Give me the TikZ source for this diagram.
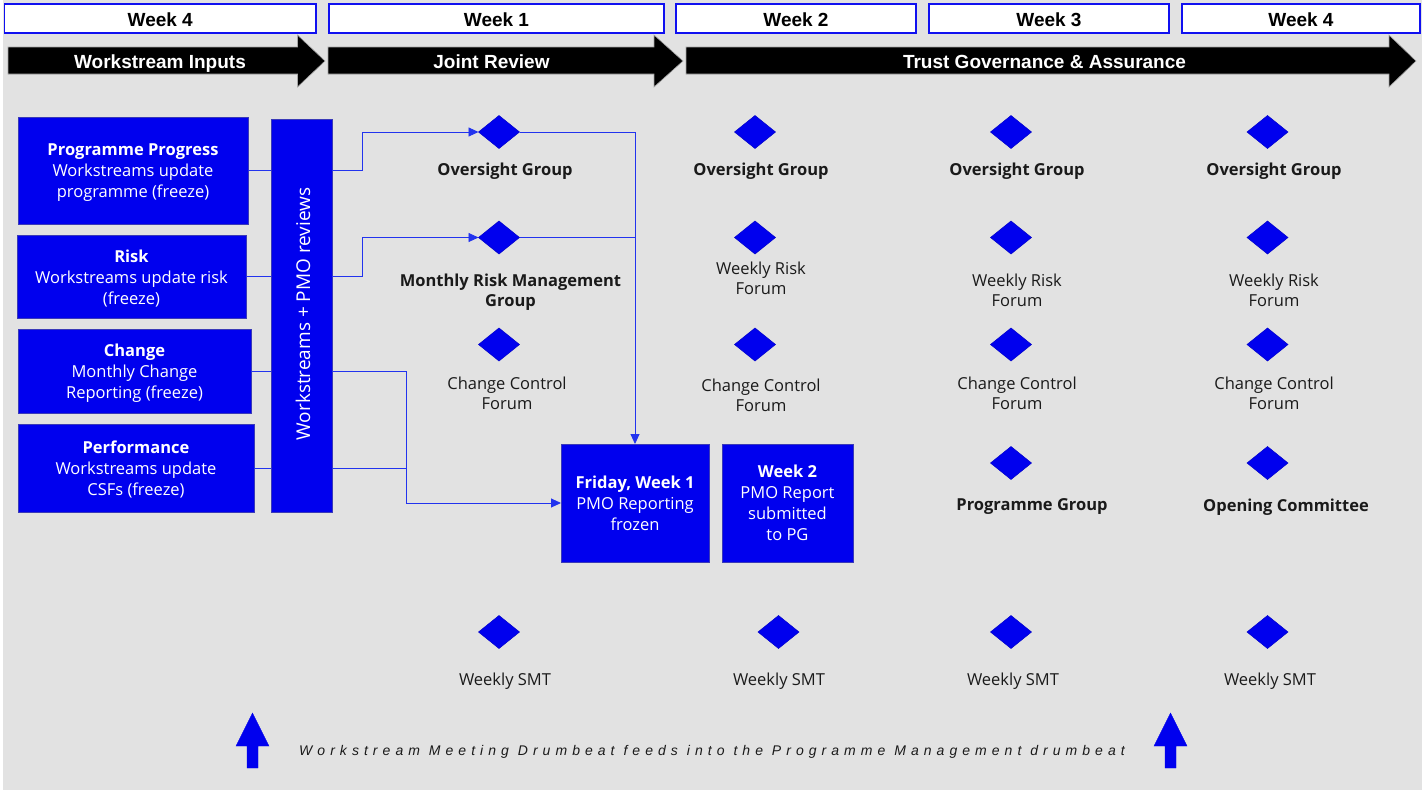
\documentclass[tikz,border=0pt]{standalone}
\usepackage{fontspec}
\setmainfont{Open Sans}
\newfontfamily\hdrfont{Liberation Sans}
\newfontfamily\drumfont{Liberation Sans}[LetterSpace=36]
\usetikzlibrary{shapes.geometric,arrows.meta,calc}
\definecolor{bg}{HTML}{E2E2E2}
\definecolor{boxblue}{HTML}{0000EE}
\definecolor{boxedge}{HTML}{3A3AB8}
\definecolor{linkblue}{HTML}{2233EE}
\definecolor{hdredge}{HTML}{1010F0}
\definecolor{ink}{HTML}{1A1A1A}
\begin{document}
\begin{tikzpicture}[x=1pt,y=-1pt,
  every node/.style={inner sep=0pt, outer sep=0pt},
  weekbox/.style={draw=hdredge, line width=1.5pt, fill=white, text=black,
    text height=16.6pt, text depth=0pt,
    font=\hdrfont\bfseries\fontsize{19}{22}\selectfont},
  arrowtext/.style={text=white, text height=14.5pt, text depth=0pt,
    font=\hdrfont\bfseries\fontsize{19}{22}\selectfont},
  bluebox/.style={draw=boxedge, line width=0.8pt, fill=boxblue, text=white, align=center,
    font=\fontsize{16.5}{21}\selectfont},
  boxtext/.style={text=white, align=center, yshift=-1.8pt, font=\fontsize{16.5}{21}\selectfont},
  dia/.style={diamond, fill=boxblue, draw=boxblue!85!black, line width=0.5pt,
    minimum width=41pt, minimum height=33pt, inner sep=0pt},
  lbl/.style={align=center, text=ink, font=\fontsize{16.5}{20}\selectfont},
  blbl/.style={align=center, text=ink, yshift=-2pt, font=\bfseries\fontsize{16.5}{20}\selectfont},
  dsc/.style={yshift=-2pt},
  link/.style={draw=linkblue, line width=0.9pt},
  arr/.style={link, -{Triangle[length=10pt,width=9pt]}},
  hdrarrow/.style={fill=black, draw=gray!70, line width=0.6pt},
  uparrow/.style={fill=boxblue, draw=boxblue},
  ]
\useasboundingbox (0,0) rectangle (1422,790);
\fill[white] (0,0) rectangle (3,790);
\fill[bg] (3,0) rectangle (1422,790);

% week header boxes
\node[weekbox, minimum width=311.5pt, minimum height=29pt] (wk0) at (160.25,18.5) {Week 4};
\node[weekbox, minimum width=335pt, minimum height=29pt] (wk1) at (496.5,18.5) {Week 1};
\node[weekbox, minimum width=240pt, minimum height=29pt] (wk2) at (796,18.5) {Week 2};
\node[weekbox, minimum width=240pt, minimum height=29pt] (wk3) at (1049,18.5) {Week 3};
\node[weekbox, minimum width=238pt, minimum height=29pt] (wk4) at (1301,18.5) {Week 4};

% phase arrows
\filldraw[hdrarrow] (8,47) -- (297.5,47) -- (297.5,35) -- (325,61) -- (297.5,87) -- (297.5,74) -- (8,74) -- cycle;
\filldraw[hdrarrow] (328,47) -- (654,47) -- (654,35) -- (683,61) -- (654,87) -- (654,74) -- (328,74) -- cycle;
\filldraw[hdrarrow] (686,47) -- (1389,47) -- (1389,35) -- (1416,61) -- (1389,87) -- (1389,74) -- (686,74) -- cycle;
\node[arrowtext] (ph1) at (160,61) {Workstream Inputs};
\node[arrowtext] (ph2) at (491.5,61) {Joint Review};
\node[arrowtext] (ph3) at (1044.5,61) {Trust Governance \& Assurance};

% left input boxes
\node[bluebox, minimum width=230pt, minimum height=107pt] (pp) at (133,170.5) {};
\node[boxtext] (ppt) at (pp) {\textbf{Programme Progress}\\Workstreams update\\programme (freeze)};
\node[bluebox, minimum width=229pt, minimum height=83pt] (rk) at (131.5,276.5) {};
\node[boxtext] (rkt) at (rk) {\textbf{Risk}\\Workstreams update risk\\(freeze)};
\node[bluebox, minimum width=233pt, minimum height=84pt] (ch) at (134.5,371) {};
\node[boxtext] (cht) at (ch) {\textbf{Change}\\Monthly Change\\Reporting (freeze)};
\node[bluebox, minimum width=236pt, minimum height=88pt] (pf) at (136,468) {};
\node[boxtext] (pft) at (pf) {\textbf{Performance}\\Workstreams update\\CSFs (freeze)};
\node[bluebox, minimum width=61pt, minimum height=393pt] (bar) at (301.5,315.5) {};
\node[text=white, rotate=90, font=\fontsize{19}{22}\selectfont] (bartext) at (303,314) {Workstreams + PMO reviews};

% report boxes
\node[bluebox, minimum width=148pt, minimum height=118pt] (fri) at (635,503)
  {\textbf{Friday, Week 1}\\PMO Reporting\\frozen};
\node[bluebox, minimum width=131pt, minimum height=118pt] (w2r) at (787.5,503)
  {\textbf{Week 2}\\PMO Report\\submitted\\to PG};

% diamonds
\node[dia] (o1) at (499,132) {};
\node[dia] (r1) at (499,237.5) {};
\node[dia] (c1) at (499,344.5) {};
\node[dia] (s1) at (499,632) {};
\node[dia] (o2) at (755,132) {};
\node[dia] (r2) at (755,237.5) {};
\node[dia] (c2) at (755,344.5) {};
\node[dia] (s2) at (778.5,632) {};
\node[dia] (o3) at (1011,132) {};
\node[dia] (r3) at (1011,237.5) {};
\node[dia] (c3) at (1011,344.5) {};
\node[dia] (p3) at (1011,463) {};
\node[dia] (s3) at (1011,632) {};
\node[dia] (o4) at (1267.5,132) {};
\node[dia] (r4) at (1267.5,237.5) {};
\node[dia] (c4) at (1267.5,344.5) {};
\node[dia] (p4) at (1267.5,463) {};
\node[dia] (s4) at (1267.5,632) {};

% labels
\node[blbl] (lo1) at (505,169) {Oversight Group};
\node[blbl] (lr1) at (510.5,290) {Monthly Risk Management\\Group};
\node[lbl] (lc1) at (507,393.5) {Change Control\\Forum};
\node[lbl, dsc] (ls1) at (505,679) {Weekly SMT};
\node[blbl] (lo2) at (761,169) {Oversight Group};
\node[lbl] (lr2) at (761,278.5) {Weekly Risk\\Forum};
\node[lbl] (lc2) at (761,395.5) {Change Control\\Forum};
\node[lbl, dsc] (ls2) at (779,679) {Weekly SMT};
\node[blbl] (lo3) at (1017,169) {Oversight Group};
\node[lbl] (lr3) at (1017,290) {Weekly Risk\\Forum};
\node[lbl] (lc3) at (1017,393.5) {Change Control\\Forum};
\node[blbl] (lp3) at (1032,505) {Programme Group};
\node[lbl, dsc] (ls3) at (1013,679) {Weekly SMT};
\node[blbl] (lo4) at (1274,169) {Oversight Group};
\node[lbl] (lr4) at (1274,290) {Weekly Risk\\Forum};
\node[lbl] (lc4) at (1274,393.5) {Change Control\\Forum};
\node[blbl] (lp4) at (1286,505) {Opening Committee};
\node[lbl, dsc] (ls4) at (1270,679) {Weekly SMT};

% connectors
\coordinate (j1) at (362,0);
\coordinate (j2) at (406.5,0);
\draw[link] (pp.east) -- (pp.east -| bar.west);
\draw[arr] (pp.east -| bar.east) -- (pp.east -| j1) |- (o1.west);
\draw[link] (rk.east) -- (rk.east -| bar.west);
\draw[arr] (rk.east -| bar.east) -- (rk.east -| j1) |- (r1.west);
\draw[link] (ch.east) -- (ch.east -| bar.west);
\draw[arr] (ch.east -| bar.east) -- (ch.east -| j2) |- (fri.west);
\draw[link] (pf.east) -- (pf.east -| bar.west);
\draw[link] (pf.east -| bar.east) -- (pf.east -| j2);
\draw[arr] (o1.east) -| (fri.north);
\draw[link] (r1.east) -- (r1.east -| fri.north);

% bottom drumbeat
\filldraw[uparrow] (247,768) -- (258,768) -- (258,746) -- (269,746) -- (252.5,713) -- (236,746) -- (247,746) -- cycle;
\filldraw[uparrow] (1165,768) -- (1176,768) -- (1176,746) -- (1187,746) -- (1170.5,713) -- (1154,746) -- (1165,746) -- cycle;
\node[text=ink, font=\drumfont\itshape\fontsize{14}{16}\selectfont] (drum) at (712,752)
  {Workstream Meeting Drumbeat feeds into the Programme Management drumbeat};
\end{tikzpicture}
\end{document}
